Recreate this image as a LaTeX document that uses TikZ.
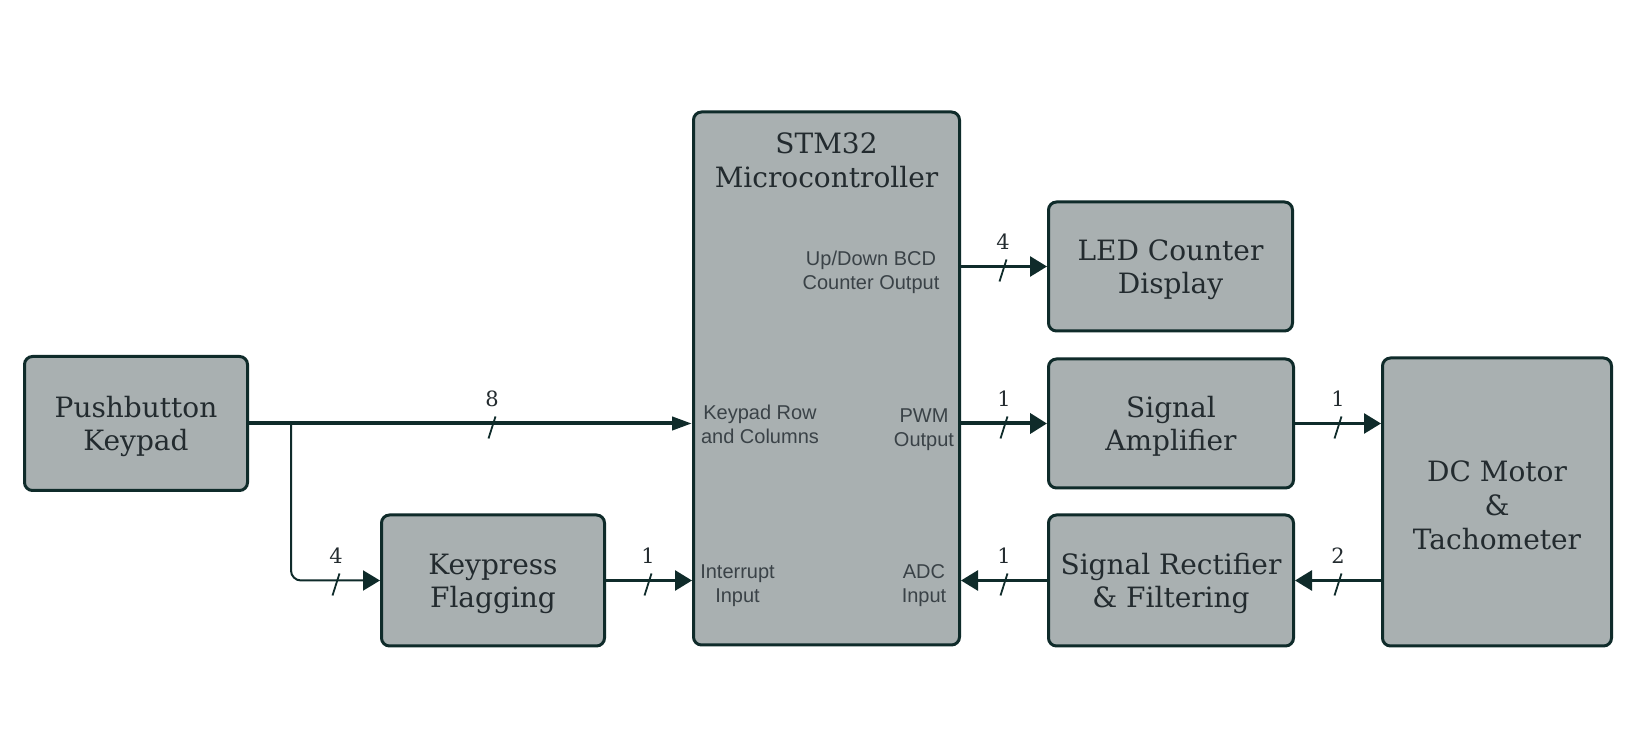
\documentclass[tikz,border=0pt]{standalone}
\usepackage{fontspec}
\setmainfont{DejaVu Serif}
\newfontfamily\portfont{Liberation Sans}
\usetikzlibrary{arrows.meta}
\definecolor{boxfill}{HTML}{A9B0B1}
\definecolor{edge}{HTML}{0F2B2A}
\definecolor{boxtext}{HTML}{232B2F}
\definecolor{porttext}{HTML}{3A4247}
\newcommand\topstrut{\rule{0pt}{13.6pt}}
\tikzset{
  block/.style={draw=edge, line width=1.5pt, fill=boxfill, rounded corners=4pt,
    text=boxtext, align=center, inner sep=0pt,
    font=\fontsize{14}{16.8}\selectfont},
  title/.style={text=boxtext, align=center, inner sep=0pt,
    font=\fontsize{14}{16.8}\selectfont},
  port/.style={text=porttext, align=center, inner sep=0pt,
    font=\portfont\fontsize{10}{12}\selectfont},
  numlbl/.style={text=boxtext, inner sep=0pt, font=\fontsize{10.5}{12}\selectfont},
  wire/.style={draw=edge, line width=1.4pt, -{Triangle[length=8.5pt,width=10pt]}},
  pics/bus/.style={code={
    \draw[edge, line width=0.9pt] (3.5,-7) -- (-3.5,15);
    \node[numlbl] at (0,-25) {#1};}}
}
\begin{document}
\begin{tikzpicture}[x=0.5pt,y=-0.5pt]
\fill[white] (0,0) rectangle (1635,732);
\useasboundingbox (0,0) rectangle (1635,732);

\node[block, minimum width=111.5pt, minimum height=67pt] (keypad) at (136,423.5) {\topstrut Pushbutton\\Keypad};
\node[block, minimum width=133pt, minimum height=266.5pt] (stm) at (826.5,378.5) {};
\node[block, minimum width=122pt, minimum height=64.5pt] (led) at (1170.5,266.5) {\topstrut LED Counter\\Display};
\node[block, minimum width=122.5pt, minimum height=64.5pt] (amp) at (1171,423.5) {\topstrut Signal\\Amplifier};
\node[block, minimum width=122.5pt, minimum height=65.5pt] (rect) at (1171,580.5) {\topstrut Signal Rectifier\\\& Filtering};
\node[block, minimum width=114.5pt, minimum height=144pt] (motor) at (1497,502) {\topstrut DC Motor\\\&\\Tachometer};
\node[block, minimum width=111.5pt, minimum height=65.5pt] (kpf) at (493,580.5) {\topstrut Keypress\\Flagging};

\node[title] (stmtitle) at (826.5,160.5) {STM32\\Microcontroller};
\node[port] (pbcd) at (871,272) {Up/Down BCD\\Counter Output};
\node[port] (pkey) at (760,424) {Keypad Row\\and Columns};
\node[port] (ppwm) at (924,429.5) {PWM\\Output};
\node[port] (pint) at (737.5,586) {Interrupt\\Input};
\node[port] (padc) at (924,586) {ADC\\Input};

\coordinate (split) at (291,423.5);

\draw[wire, line width=2pt, -{Triangle[length=10pt,width=6.5pt]}] (keypad.east) -- (keypad.east -| stm.west);
\draw[wire, line width=1pt, rounded corners=5pt] (split) |- (kpf.west);
\draw[wire] (kpf.east) -- (kpf.east -| stm.west);
\draw[wire] (stm.east |- led.west) -- (led.west);
\draw[wire, line width=2pt] (stm.east |- amp.west) -- (amp.west);
\draw[wire] (amp.east) -- (amp.east -| motor.west);
\draw[wire] (motor.west |- rect.east) -- (rect.east);
\draw[wire] (rect.west) -- (rect.west -| stm.east);

\pic at (492,423.5) {bus=8};
\pic at (336,580.5) {bus=4};
\pic at (648,580.5) {bus=1};
\pic at (1003,266.5) {bus=4};
\pic at (1004,423.5) {bus=1};
\pic at (1338,423.5) {bus=1};
\pic at (1338,580.5) {bus=2};
\pic at (1004,580.5) {bus=1};
\end{tikzpicture}
\end{document}
